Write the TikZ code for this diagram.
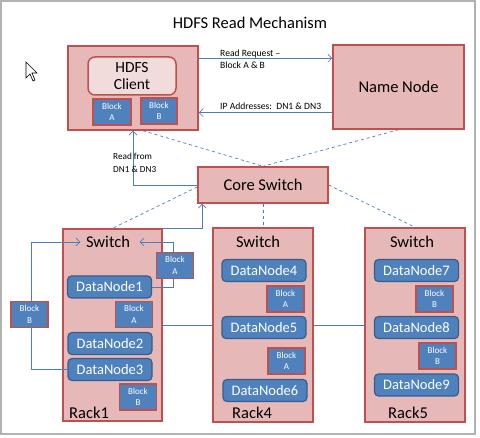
\documentclass[tikz,border=0pt]{standalone}
\usepackage{fontspec}
\setmainfont{Carlito}
\usetikzlibrary{arrows.meta}

\definecolor{boxpink}{HTML}{E6B9B8}
\definecolor{boxred}{HTML}{C0504D}
\definecolor{clientpink}{HTML}{F2DCDB}
\definecolor{dnblue}{HTML}{4F81BD}
\definecolor{dnedge}{HTML}{385D8A}
\definecolor{linkblue}{HTML}{4A7EBB}

\tikzset{
  rackbox/.style={draw=boxred, fill=boxpink, line width=1.5pt},
  dnode/.style={draw=dnedge, fill=dnblue, line width=1.2pt, rounded corners=4pt, text=white,
    minimum width=84pt, minimum height=22pt, inner sep=0pt, font=\fontsize{14.5}{16}\selectfont},
  blk/.style={draw=boxred, fill=dnblue, line width=1.3pt, text=white, align=center,
    minimum width=37pt, minimum height=26pt, inner sep=0pt, font=\fontsize{9}{11.5}\selectfont},
  bigtxt/.style={font=\fontsize{16.5}{18}\selectfont},
  lbl/.style={font=\fontsize{9.6}{12.5}\selectfont, align=left, anchor=west, inner sep=0pt},
  link/.style={draw=linkblue, line width=0.7pt},
  dlink/.style={draw=linkblue, line width=0.7pt, dashed},
  tip/.style={-{Straight Barb[length=4pt,width=8pt]}}
}

\begin{document}
\begin{tikzpicture}[x=1pt, y=-1pt]
\useasboundingbox (0,0) rectangle (480,438);
\draw [gray!60, line width=1.2pt] (1,1) rectangle (475,434);

% title and cursor
\node[bigtxt] (title) at (250,23) {HDFS Read Mechanism};
\draw[black, fill=white, line width=0.6pt] (26,62) -- (26,78) -- (30,74) -- (33,81) -- (35,80) -- (32,73) -- (37,73) -- cycle;

% client and name node
\node[rackbox, minimum width=130pt, minimum height=84pt] (client) at (133,88) {};
\node[draw=boxred, fill=clientpink, line width=1.5pt, rounded corners=7pt, minimum width=88pt, minimum height=38pt,
  align=center, bigtxt, font=\fontsize{15.5}{17}\selectfont] (hdfs) at (132,76) {HDFS\\Client};
\node[rackbox, bigtxt, minimum width=131pt, minimum height=84pt] (name) at (398.5,87) {Name Node};

\draw[link, tip] ([yshift=-13pt]client.north east) -- ([yshift=-13pt]client.north east -| name.west);
\draw[link, tip] ([yshift=18pt]client.south east -| name.west) -- ([yshift=18pt]client.south east);
\node[lbl] (req) at (220,59) {Read Request --\\Block A \& B};
\node[lbl] (ip) at (220,106) {IP Addresses:\ \ DN1 \& DN3};

% core switch
\node[rackbox, bigtxt, minimum width=130pt, minimum height=36pt] (core) at (263,185) {Core Switch};

% racks
\node[rackbox, minimum width=99pt, minimum height=192pt] (rack1) at (112.5,325) {};
\node[rackbox, minimum width=100pt, minimum height=194pt] (rack4) at (263,325) {};
\node[rackbox, minimum width=100pt, minimum height=194pt] (rack5) at (415,325) {};

\node[bigtxt] (sw1) at (108,242) {Switch};
\node[bigtxt] (sw4) at (258,242) {Switch};
\node[bigtxt] (sw5) at (412,242) {Switch};
\node[bigtxt, anchor=west, inner sep=0pt] (r1) at (69,413) {Rack1};
\node[bigtxt, anchor=west, inner sep=0pt] (r4) at (232,413) {Rack4};
\node[bigtxt, anchor=west, inner sep=0pt] (r5) at (388,413) {Rack5};

\node[dnode] (dn1) at (109.5,287) {DataNode1};
\node[dnode] (dn2) at (110,343.5) {DataNode2};
\node[dnode] (dn3) at (110,369.5) {DataNode3};
\node[dnode] (dn4) at (264,270.5) {DataNode4};
\node[dnode] (dn5) at (264,327.5) {DataNode5};
\node[dnode] (dn6) at (265,390.5) {DataNode6};
\node[dnode] (dn7) at (416.5,270.5) {DataNode7};
\node[dnode] (dn8) at (416.5,327.5) {DataNode8};
\node[dnode] (dn9) at (416.5,385) {DataNode9};

% connections
\draw[dlink] ([xshift=10pt]client.south) -- (core.north);
\draw[dlink] (name.south) -- (core.north);
\draw[link, tip] (core.west) -| (client.south);
\node[lbl, font=\fontsize{9.2}{12.5}\selectfont] (rd) at (113,163) {Read from\\DN1 \& DN3};
\draw[dlink] ([yshift=-2pt]core.west) -- (rack1.north);
\draw[dlink] (core.south) -- (rack4.north);
\draw[dlink] (core.east) -- (rack5.north);
\draw[link, tip] (rack1.north east) -| ([xshift=5pt]core.south west);
\draw[link] (rack1.east) -- (rack4.west);
\draw[link] (rack4.east) -- (rack5.west);
\draw[link, tip] (dn1.east) -- ++(21,0) |- ([xshift=6pt]sw1.east);
\draw[link, tip] (dn3.west) -- ++(-36,0) |- ([xshift=-2pt]sw1.west);

% blocks
\node[blk, minimum width=38pt] (cA) at (112,112) {Block\\A};
\node[blk, minimum width=36pt] (cB) at (159,111) {Block\\B};
\node[blk] (b1) at (175,265.5) {Block\\A};
\node[blk] (b2) at (29.5,314.5) {Block\\B};
\node[blk] (b3) at (134,314.5) {Block\\A};
\node[blk] (b4) at (138,397) {Block\\B};
\node[blk] (b5) at (285.5,299) {Block\\A};
\node[blk] (b6) at (286.5,361) {Block\\A};
\node[blk] (b7) at (434.5,299) {Block\\B};
\node[blk] (b8) at (437.5,356) {Block\\B};
\end{tikzpicture}
\end{document}
